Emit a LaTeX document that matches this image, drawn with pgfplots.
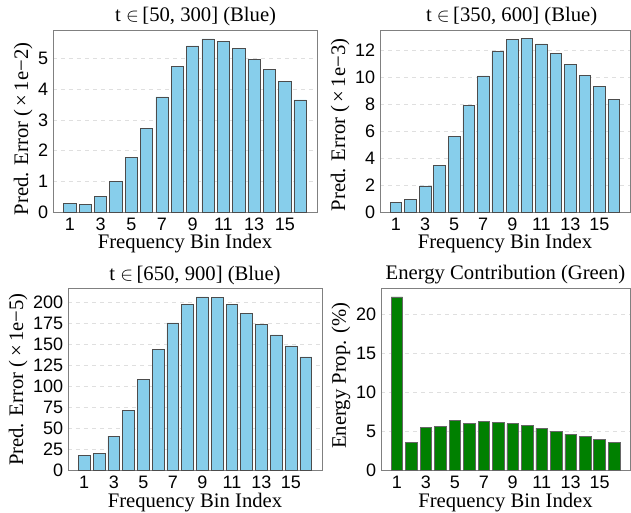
\documentclass[border=0pt]{standalone}
\usepackage{fontspec}
\setmainfont{Liberation Serif}
\newfontfamily\tickfont{Liberation Sans}
\usepackage{pgfplots}
\pgfplotsset{compat=1.18}
\definecolor{skyb}{HTML}{87CEEB}
\definecolor{grn}{HTML}{008000}
\definecolor{framegray}{HTML}{808080}
\begin{document}
\begin{tikzpicture}
\path[use as bounding box] (0,0) rectangle (473.25pt,384pt);
\pgfplotsset{
  panel/.style={
    scale only axis, anchor=south west,
    height=136.5pt,
    xmin=-0.1, xmax=17.1, ymin=0,
    xtick={1,3,...,15},
    axis line style={framegray, line width=0.6pt},
    major tick length=0pt,
    ymajorgrids, grid style={dashed, gray!25, line width=0.4pt},
    tick label style={font=\tickfont\fontsize{13.5}{15}\selectfont, text=black},
    xticklabel style={anchor=north, inner sep=0pt, text height=9.7pt, text depth=0pt, yshift=-3.8pt},
    yticklabel style={anchor=east, inner sep=0pt, xshift=-3.5pt},
    /pgf/number format/assume math mode=true,
    label style={font=\fontsize{15.5}{17}\selectfont},
    title style={font=\fontsize{15.5}{17}\selectfont, at={(axis description cs:0.5,1)}, anchor=south, inner sep=0pt, yshift=-3pt},
    xlabel={Frequency Bin Index},
    xlabel style={at={(axis description cs:0.5,0)}, anchor=north, inner sep=0pt, text height=10.2pt, text depth=3.3pt, yshift=-17pt},
    ylabel style={inner sep=0pt, yshift=4pt},
  },
  bluebar/.style={ybar, bar width=0.8, bar shift=0pt, fill=skyb, draw=black!70, line width=0.5pt},
  greenbar/.style={ybar, bar width=0.8, bar shift=0pt, fill=grn, draw=black!60, line width=0.5pt},
}
% top left
\begin{axis}[panel, at={(39.75pt,225pt)}, width=198pt, ymax=5.93,
  ytick={0,1,...,5},
  title={t $\in$\,[50, 300] (Blue)}, title style={xshift=8pt},
  ylabel={Pred. Error (\,×\,1e−2)}, ylabel style={xshift=-6pt}]
\addplot[bluebar] coordinates {(1,0.29) (2,0.24) (3,0.52) (4,1.01) (5,1.78) (6,2.73)
 (7,3.75) (8,4.74) (9,5.41) (10,5.64) (11,5.57) (12,5.34) (13,4.98) (14,4.65) (15,4.26) (16,3.65)};
\end{axis}
% top right
\begin{axis}[panel, at={(285pt,225pt)}, width=187.5pt, ymax=13.54,
  ytick={0,2,...,12},
  title={t $\in$\,[350, 600] (Blue)}, title style={xshift=5pt},
  ylabel={Pred. Error (\,×\,1e−3)}, ylabel style={xshift=-3pt}]
\addplot[bluebar] coordinates {(1,0.70) (2,0.95) (3,1.94) (4,3.49) (5,5.63) (6,7.92)
 (7,10.13) (8,11.92) (9,12.82) (10,12.90) (11,12.50) (12,11.80) (13,10.98) (14,10.16) (15,9.36) (16,8.39)};
\end{axis}
% bottom left
\begin{axis}[panel, at={(51pt,31pt)}, width=190.5pt, ymax=216.6,
  ytick={0,25,...,200},
  title={t $\in$\,[650, 900] (Blue)}, ylabel={Pred. Error (\,×\,1e−5)}]
\addplot[bluebar] coordinates {(1,18.2) (2,20.6) (3,41.2) (4,71.3) (5,108.9) (6,144.6)
 (7,175.8) (8,198.0) (9,206.7) (10,206.0) (11,198.0) (12,187.0) (13,173.9) (14,161.6) (15,148.5) (16,135.4)};
\end{axis}
% bottom right
\begin{axis}[panel, at={(285.75pt,31pt)}, width=186.75pt, ymax=23.3,
  ytick={0,5,...,20},
  title={Energy Contribution (Green)},
  ylabel={Energy Prop. (\%)}, ylabel style={xshift=3pt}]
\addplot[greenbar] coordinates {(1,22.25) (2,3.67) (3,5.49) (4,5.66) (5,6.44) (6,6.09)
 (7,6.26) (8,6.13) (9,6.00) (10,5.75) (11,5.44) (12,5.01) (13,4.67) (14,4.36) (15,3.97) (16,3.63)};
\end{axis}
\end{tikzpicture}
\end{document}
